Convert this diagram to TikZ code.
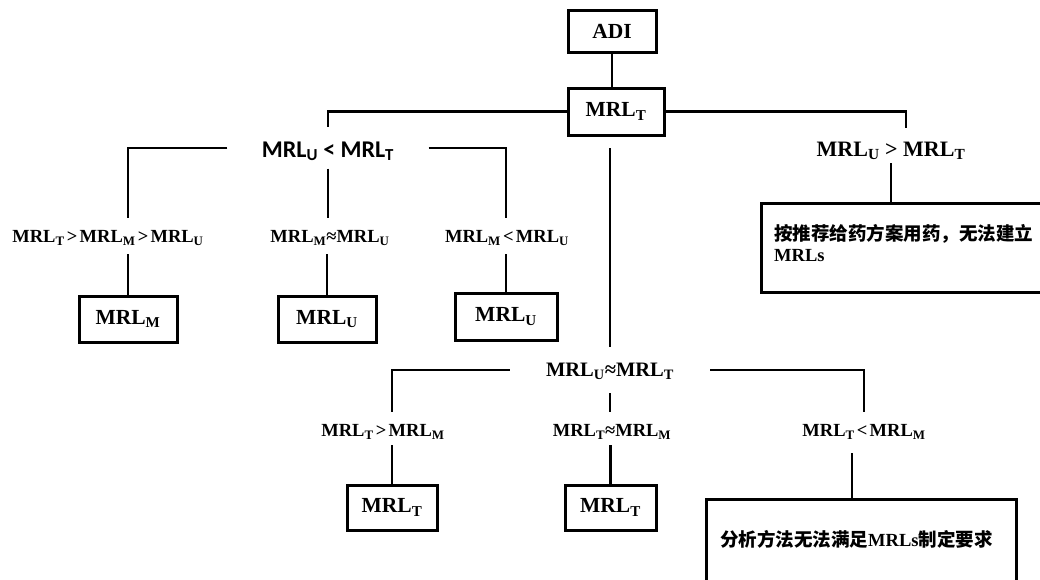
\documentclass[tikz,border=0pt]{standalone}
\usepackage{fontspec}
\setmainfont{Liberation Serif}
\newfontfamily\carl{Carlito}
\newfontfamily\cjk{Noto Sans CJK SC}
\newcommand\sbx[1]{\textsubscript{#1}}
\newcommand\rel[1]{\hspace{0.12em}#1\hspace{0.12em}}
\begin{document}
\begin{tikzpicture}[x=1pt,y=-1pt,
  box/.style={draw, line width=3pt, inner sep=0pt, font=\bfseries\fontsize{21.5}{24}\selectfont},
  lab/.style={inner sep=0pt, anchor=base, font=\bfseries\fontsize{18.5}{22}\selectfont},
  conn/.style={line width=2.8pt}]
\useasboundingbox (0,0) rectangle (1040,579);
\clip (0,0) rectangle (1040,579);
% top boxes
\node[box, minimum width=88pt, minimum height=42pt] (ADI) at (612,31) {ADI};
\node[box, minimum width=96pt, minimum height=47pt] (MT) at (616,111.5) {MRL\sbx{T}};
% first level labels
\node[lab, font=\carl\bfseries\fontsize{24}{28}\selectfont, text height=29.5pt, text depth=11.5pt, minimum width=201pt] (L1) at (328,157) {MRL\sbx{U}\hspace{0.22em}<\hspace{0.22em}MRL\sbx{T}};
\node[lab, font=\bfseries\fontsize{22}{26}\selectfont, text height=28.7pt, text depth=6.3pt] (R1) at (891,156.7) {MRL\sbx{U} > MRL\sbx{T}};
% right box
\node[draw, line width=3pt, inner sep=0pt, minimum width=300pt, minimum height=89pt, anchor=north west] (B1) at (760,202) {};
\node[inner sep=0pt, anchor=base west, text width=270pt, align=left, font=\bfseries\fontsize{18.5}{21.7}\selectfont] (B1t) at (774,240) {{\cjk 按推荐给药方案用药，无法建立}\\MRLs};
% second level left
\node[lab, text height=24.7pt, text depth=11.3pt] (L2a) at (108,242.7) {MRL\sbx{T}\rel{>}MRL\sbx{M}\rel{>}MRL\sbx{U}};
\node[lab, text height=24.7pt, text depth=11.3pt] (L2b) at (330,242.7) {MRL\sbx{M}≈MRL\sbx{U}};
\node[lab, text height=24.7pt, text depth=11.3pt] (L2c) at (507,242.7) {MRL\sbx{M}\rel{<}MRL\sbx{U}};
\node[box, minimum width=98pt, minimum height=46pt] (BM) at (128,319) {MRL\sbx{M}};
\node[box, minimum width=98pt, minimum height=46pt] (BU1) at (327,319) {MRL\sbx{U}};
\node[box, minimum width=102pt, minimum height=47pt] (BU2) at (506,316.5) {MRL\sbx{U}};
% middle
\node[lab, font=\bfseries\fontsize{20.5}{24}\selectfont, text height=29.7pt, text depth=16.3pt, minimum width=200pt] (M1) at (610,376.7) {MRL\sbx{U}≈MRL\sbx{T}};
\node[lab, text height=24.7pt, text depth=8.3pt] (M2a) at (383,436.7) {MRL\sbx{T}\rel{>}MRL\sbx{M}};
\node[lab, text height=24.7pt, text depth=8.3pt] (M2b) at (612,436.7) {MRL\sbx{T}≈MRL\sbx{M}};
\node[lab, text height=24.7pt, text depth=16.3pt] (M2c) at (864,436.7) {MRL\sbx{T}\rel{<}MRL\sbx{M}};
\node[box, minimum width=90pt, minimum height=45pt] (BT1) at (392,507.5) {MRL\sbx{T}};
\node[box, minimum width=91pt, minimum height=45pt] (BT2) at (610.5,507.5) {MRL\sbx{T}};
\node[draw, line width=3pt, inner sep=0pt, minimum width=310pt, minimum height=110pt, anchor=north west] (B2) at (705,498) {};
\node[inner sep=0pt, anchor=base west, font=\bfseries\fontsize{18.5}{21.7}\selectfont] (B2t) at (720,546) {{\cjk 分析方法无法满足}MRLs{\cjk 制定要求}};
% connectors
\draw[conn] (ADI.south) -- (ADI.south |- MT.north);
\draw[conn] (MT.west) -| (L1.north);
\draw[conn] (MT.east) -| ([xshift=15pt]R1.north);
\draw[conn] (R1.south) -- (R1.south |- B1.north);
\draw[conn] (L1.west) -| (BM.north |- L2a.north);
\draw[conn] (L1.south) -- (L1.south |- L2b.north);
\draw[conn] (L1.east) -| (BU2.north |- L2c.north);
\draw[conn] (L2a.south -| BM.north) -- (BM.north);
\draw[conn] (L2b.south -| BU1.north) -- (BU1.north);
\draw[conn] (L2c.south -| BU2.north) -- (BU2.north);
\draw[conn] (L1.east -| M1.north) -- (M1.north);
\draw[conn] (M1.west) -| (BT1.north |- M2a.north);
\draw[conn] (M1.south) -- (M1.south |- M2b.north);
\draw[conn] (M1.east) -| (M2c.north);
\draw[conn] (M2a.south -| BT1.north) -- (BT1.north);
\draw[conn] (M2b.south -| BT2.north) -- (BT2.north);
\draw[conn] ([xshift=-12pt]M2c.south) -- ([xshift=-12pt]M2c.south |- B2.north);
\end{tikzpicture}
\end{document}
